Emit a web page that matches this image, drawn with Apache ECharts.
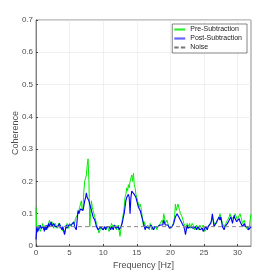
<!DOCTYPE html>
<html><head><meta charset="utf-8">
<script src="https://cdn.jsdelivr.net/npm/echarts@6/dist/echarts.min.js"></script>
<style>html,body{margin:0;padding:0;background:#fff}#c{width:277px;height:277px}</style>
</head><body><div id="c"></div>
<script>
const freqStep = 0.125;
const preSub = [
0.12,0.04,0.05,0.065,0.06,0.045,0.04,0.06,0.07,
0.05,0.05,0.065,0.06,0.05,0.055,0.07,0.08,
0.065,0.06,0.075,0.07,0.055,0.05,0.07,0.065,
0.055,0.06,0.07,0.055,0.065,0.07,0.05,0.045,
0.055,0.04,0.05,0.06,0.07,0.065,0.055,0.07,
0.065,0.06,0.07,0.075,0.065,0.07,0.085,0.08,
0.09,0.1,0.11,0.12,0.13,0.14,0.11,0.12,
0.17,0.2,0.21,0.22,0.25,0.27,0.2,0.06,
0.1,0.14,0.12,0.11,0.1,0.09,0.08,0.07,
0.06,0.05,0.04,0.04,0.055,0.06,0.05,0.05,
0.06,0.065,0.05,0.055,0.06,0.06,0.045,0.05,
0.06,0.07,0.065,0.055,0.05,0.06,0.065,0.05,
0.055,0.065,0.06,0.03,0.05,0.07,0.085,0.1,
0.12,0.15,0.16,0.18,0.17,0.19,0.18,0.2,
0.21,0.22,0.2,0.225,0.19,0.18,0.16,0.15,
0.14,0.14,0.12,0.13,0.12,0.1,0.08,0.06,
0.075,0.07,0.055,0.05,0.065,0.06,0.05,0.07,
0.06,0.05,0.045,0.06,0.065,0.055,0.06,0.05,
0.06,0.065,0.055,0.07,0.075,0.08,0.07,0.1,
0.09,0.07,0.065,0.08,0.07,0.06,0.055,0.065,
0.055,0.05,0.065,0.06,0.09,0.13,0.11,0.12,
0.13,0.125,0.11,0.1,0.095,0.09,0.08,0.07,
0.065,0.06,0.05,0.07,0.065,0.06,0.07,0.055,
0.06,0.07,0.065,0.06,0.05,0.055,0.065,0.06,
0.05,0.055,0.065,0.06,0.055,0.05,0.065,0.06,
0.045,0.045,0.055,0.05,0.06,0.065,0.06,0.07,
0.075,0.09,0.085,0.07,0.065,0.065,0.07,0.08,
0.085,0.09,0.1,0.1,0.08,0.07,0.065,0.06,
0.065,0.07,0.075,0.08,0.085,0.09,0.1,0.1,
0.085,0.08,0.09,0.09,0.1,0.1,0.095,0.08,
0.09,0.09,0.1,0.1,0.08,0.07,0.075,0.08,
0.07,0.06,0.055,0.05,0.055,0.06,0.08,0.1];
const postSub = [
0.02,0.06,0.045,0.05,0.04,0.065,0.055,0.05,0.05,
0.06,0.045,0.06,0.05,0.065,0.055,0.07,0.06,
0.065,0.075,0.06,0.06,0.07,0.065,0.06,0.065,
0.055,0.06,0.065,0.07,0.06,0.055,0.05,0.06,
0.06,0.035,0.05,0.065,0.055,0.06,0.065,0.07,
0.06,0.065,0.07,0.07,0.075,0.06,0.055,0.05,
0.08,0.11,0.1,0.1,0.115,0.12,0.11,0.11,
0.125,0.14,0.15,0.165,0.15,0.15,0.14,0.13,
0.12,0.11,0.1,0.09,0.085,0.08,0.07,0.06,
0.055,0.05,0.045,0.055,0.06,0.055,0.06,0.05,
0.055,0.06,0.05,0.06,0.065,0.055,0.06,0.055,
0.05,0.06,0.055,0.05,0.065,0.06,0.055,0.05,
0.06,0.06,0.05,0.045,0.055,0.065,0.075,0.09,
0.1,0.12,0.14,0.15,0.155,0.16,0.15,0.1,
0.15,0.17,0.165,0.175,0.16,0.16,0.15,0.14,
0.13,0.12,0.115,0.11,0.1,0.09,0.08,0.07,
0.06,0.05,0.06,0.065,0.06,0.055,0.05,0.06,
0.065,0.07,0.06,0.05,0.055,0.06,0.065,0.055,
0.06,0.06,0.055,0.065,0.07,0.07,0.065,0.08,
0.075,0.065,0.06,0.07,0.065,0.06,0.055,0.055,
0.06,0.06,0.065,0.07,0.08,0.09,0.085,0.1,
0.095,0.09,0.085,0.08,0.075,0.07,0.065,0.06,
0.05,0.035,0.05,0.065,0.055,0.05,0.06,0.06,
0.065,0.065,0.055,0.05,0.055,0.06,0.05,0.055,
0.06,0.06,0.05,0.05,0.055,0.055,0.045,0.04,
0.05,0.06,0.055,0.05,0.06,0.065,0.06,0.07,
0.08,0.1,0.08,0.06,0.065,0.07,0.075,0.08,
0.085,0.09,0.08,0.09,0.075,0.06,0.055,0.05,
0.06,0.065,0.065,0.07,0.075,0.08,0.085,0.09,
0.08,0.07,0.085,0.095,0.085,0.08,0.075,0.07,
0.08,0.085,0.075,0.08,0.07,0.06,0.065,0.07,
0.06,0.055,0.065,0.06,0.05,0.05,0.055,0.06];
const noiseLevel = [0.06, 0.06];
const noiseFreq = [0, 32];
const xTicks = [0,5,10,15,20,25,30];
const seriesNames = ['Pre-Subtraction','Post-Subtraction','Noise'];

const toPts = arr => arr.map((v,i)=>[i*freqStep, v]);
const chart = echarts.init(document.getElementById('c'), null, {renderer:'canvas'});
const txt = '#4d4d4d';
const font = 'Liberation Sans, Arial, sans-serif';
chart.setOption({
  animation:false,
  backgroundColor:'#fff',
  grid:{left:36,right:26,top:20,bottom:31,containLabel:false,outerBoundsMode:'none',show:true,borderColor:'#444',borderWidth:0.6,backgroundColor:'transparent'},
  legend:{
    orient:'vertical', right:30, top:24, itemWidth:11, itemHeight:6, itemGap:2,
    padding:[2,5,2,2], borderColor:'#333', borderWidth:0.6, backgroundColor:'#fff',
    textStyle:{fontSize:7, color:'#222', fontFamily:font},
    data:[
      {name:seriesNames[0], icon:'path://M0,0H10V2H0Z', itemStyle:{color:'#33ee33'}},
      {name:seriesNames[1], icon:'path://M0,0H10V2H0Z', itemStyle:{color:'#6666ff'}},
      {name:seriesNames[2], icon:'path://M0,0H4V2H0ZM6,0H10V2H6Z', itemStyle:{color:'#777'}}
    ]
  },
  xAxis:{type:'value',min:0,max:32,interval:5,
    name:'Frequency [Hz]',nameLocation:'middle',nameGap:15,nameMoveOverlap:false,
    nameTextStyle:{fontSize:9,color:txt,fontFamily:font},
    axisLine:{show:true,lineStyle:{color:'#444',width:0.6}},
    axisTick:{show:true,inside:true,length:2,customValues:xTicks,lineStyle:{color:'#444'}},
    axisLabel:{fontSize:8,color:txt,margin:3,customValues:xTicks,fontFamily:font},
    splitLine:{show:true,lineStyle:{color:'#e6e6e6',width:0.6}}},
  yAxis:{type:'value',min:0,max:0.7,interval:0.1,
    name:'Coherence',nameLocation:'middle',nameGap:16,nameMoveOverlap:false,
    nameTextStyle:{fontSize:9,color:txt,fontFamily:font},
    axisLine:{show:true,lineStyle:{color:'#444',width:0.6}},
    axisTick:{show:true,inside:true,length:2,lineStyle:{color:'#444'}},
    axisLabel:{fontSize:8,color:txt,margin:3,formatter:v=>String(+v.toFixed(1)),fontFamily:font},
    splitLine:{show:true,lineStyle:{color:'#e6e6e6',width:0.6}}},
  series:[
    {name:seriesNames[0],type:'line',data:toPts(preSub),showSymbol:false,lineStyle:{color:'#00ee00',width:1},itemStyle:{color:'#00ee00'},z:2},
    {name:seriesNames[1],type:'line',data:toPts(postSub),showSymbol:false,lineStyle:{color:'#0000ff',width:1.1},itemStyle:{color:'#5555ff'},z:3},
    {name:seriesNames[2],type:'line',data:noiseFreq.map((f,i)=>[f,noiseLevel[i]]),showSymbol:false,lineStyle:{color:'#888',width:1,type:[4,3]},itemStyle:{color:'#888'},z:4}
  ]
});
</script></body></html>
